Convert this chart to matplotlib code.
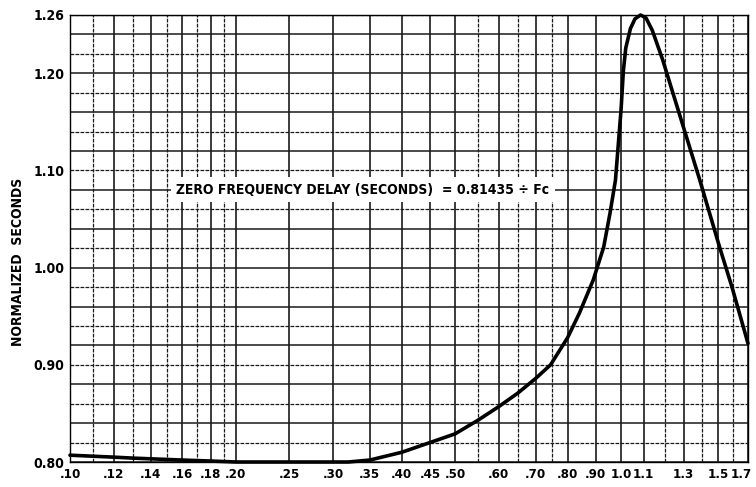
import numpy as np
import matplotlib
matplotlib.use("Agg")
import matplotlib.pyplot as plt
from matplotlib.transforms import ScaledTranslation

# значения
freq = [0.10, 0.12, 0.13, 0.16, 0.18, 0.20, 0.25, 0.30, 0.32, 0.35, 0.40, 0.45,
        0.50, 0.55, 0.60, 0.65, 0.70, 0.745, 0.80, 0.84, 0.89, 0.93, 0.955,
        0.977, 1.00, 1.01, 1.02, 1.04, 1.06, 1.085, 1.11, 1.14, 1.19, 1.27,
        1.39, 1.51, 1.59, 1.70]
delay = [0.807, 0.805, 0.804, 0.802, 0.801, 0.800, 0.800, 0.800, 0.800, 0.802,
         0.810, 0.820, 0.829, 0.843, 0.857, 0.871, 0.886, 0.900, 0.928, 0.953,
         0.987, 1.021, 1.056, 1.090, 1.162, 1.203, 1.226, 1.246, 1.256, 1.260,
         1.257, 1.244, 1.214, 1.162, 1.090, 1.021, 0.980, 0.922]

x_ticks = [0.10, 0.12, 0.14, 0.16, 0.18, 0.20, 0.25, 0.30, 0.35, 0.40, 0.45, 0.50,
           0.60, 0.70, 0.80, 0.90, 1.0, 1.1, 1.3, 1.5, 1.7]
x_labels = ['.10', '.12', '.14', '.16', '.18', '.20', '.25', '.30', '.35', '.40',
            '.45', '.50', '.60', '.70', '.80', '.90', '1.0', '1.1', '1.3', '1.5', '1.7']
y_ticks = [0.80, 0.90, 1.00, 1.10, 1.20, 1.26]
y_labels = ['0.80', '0.90', '1.00', '1.10', '1.20', '1.26']

# линии сетки
x_grid = ([0.10, 0.11, 0.12, 0.13, 0.14, 0.15, 0.16, 0.17, 0.18, 0.19, 0.20,
           0.25, 0.30, 0.35, 0.40, 0.45, 0.50, 0.55, 0.60, 0.65, 0.70, 0.75, 0.80,
           0.90, 1.0, 1.1, 1.2, 1.3, 1.4, 1.5, 1.6, 1.7])
y_grid = [round(0.80 + 0.02 * i, 2) for i in range(24)]

plt.rcParams['font.family'] = ['DejaVu Sans']
plt.rcParams['font.stretch'] = 'condensed'
plt.rcParams['font.weight'] = 'bold'

fig = plt.figure(figsize=(7.56, 4.87), dpi=100)
ax = fig.add_axes([70 / 756, 25 / 487, 678 / 756, 447 / 487])
ax.set_xscale('log')
ax.set_xlim(0.10, 1.7)
ax.set_ylim(0.80, 1.26)

for i, v in enumerate(y_grid):
    ls = '-' if i % 2 == 0 else (0, (3, 1))
    ax.axhline(v, color='0.1', lw=1.1 if i % 2 == 0 else 0.9, ls=ls, zorder=1)
for v in x_grid:
    heavy = v in x_ticks
    ax.axvline(v, color='0.1', lw=1.2 if heavy else 0.9,
               ls='-' if heavy else (0, (3, 1)), zorder=1)

ax.plot(freq, delay, color='black', lw=2.6, solid_capstyle='round',
        solid_joinstyle='round', zorder=3, clip_on=False)

ax.text(0.156, 1.08, 'ZERO FREQUENCY DELAY (SECONDS)  = 0.81435 ÷ Fc',
        fontsize=10, va='center', ha='left', zorder=4,
        bbox=dict(facecolor='white', edgecolor='none', pad=4))

ax.minorticks_off()
ax.set_xticks(x_ticks)
ax.set_xticklabels(x_labels, fontsize=9.5)
ax.set_yticks(y_ticks)
ax.set_yticklabels(y_labels, fontsize=10)
ax.tick_params(axis='both', length=0, pad=4)
last = ax.get_xticklabels()[-1]
last.set_transform(last.get_transform() + ScaledTranslation(-5 / 72, 0, fig.dpi_scale_trans))
for s in ax.spines.values():
    s.set_color('black')
    s.set_linewidth(1.0)

fig.text(18 / 756, 1 - 262 / 487, 'NORMALIZED  SECONDS', rotation=90,
         fontsize=10, ha='center', va='center')

fig.savefig('out.png', dpi=100)
